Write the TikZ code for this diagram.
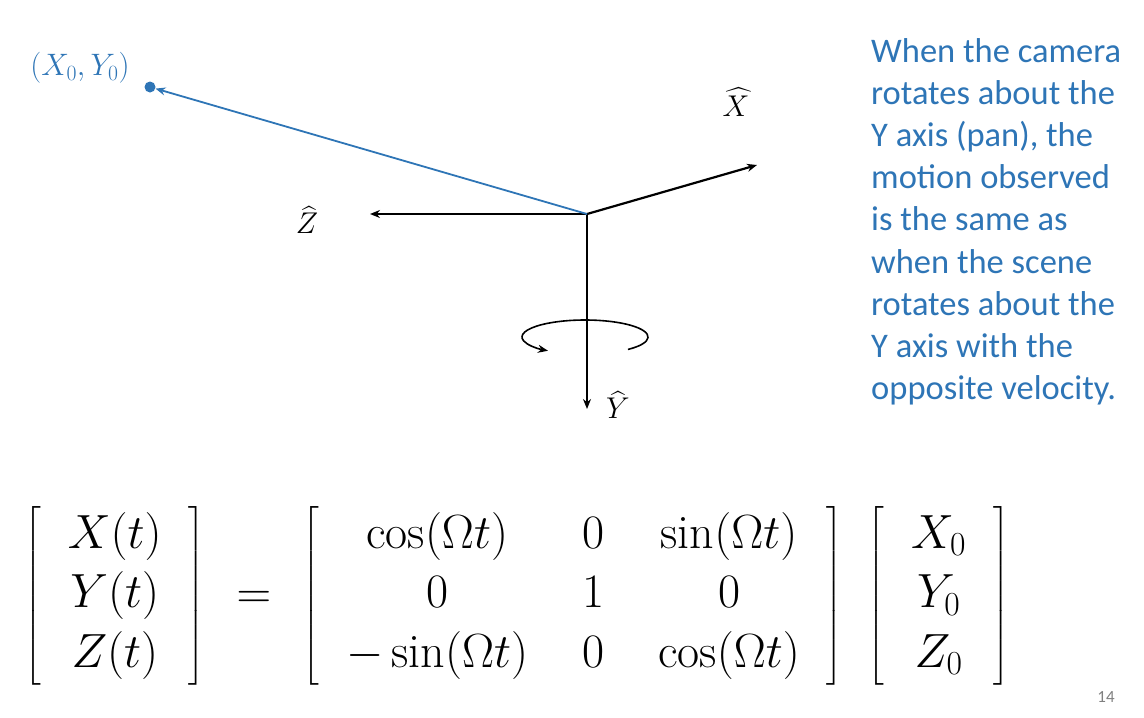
\RequirePackage{fix-cm}
\documentclass[tikz,border=0pt]{standalone}
\usepackage{amsmath}
\usepackage{fontspec}
\setsansfont{Carlito}
\usepackage{tikz}
\usetikzlibrary{arrows.meta, positioning}

\definecolor{slideblue}{RGB}{46,117,182}

\begin{document}
\begin{tikzpicture}[x=1pt, y=-1pt, >={Stealth[length=10pt,width=8pt]},
    axis/.style={->, line width=2.2pt, black},
    ray/.style={->, line width=1.8pt, slideblue},
    lbl/.style={font=\fontsize{30}{34}\selectfont, inner sep=0pt}]

        \useasboundingbox (0,0) rectangle (1144,718);

        \coordinate (o) at (587,214);
        \coordinate (xe) at (757,165);
        \coordinate (ze) at (370,214);
        \coordinate (ye) at (587,409);
        \node[circle, fill=slideblue, inner sep=0pt, minimum size=11pt] (p0) at (150,87) {};

        \node[lbl] (xlab) at (736,102) {$\widehat{X}$};
        \node[lbl] (zlab) at (307,220) {$\widehat{Z}$};
        \node[lbl] (ylab) at (618,405) {$\widehat{Y}$};
        \node[lbl, font=\fontsize{31}{34}\selectfont, text=slideblue] (plab) at (80,68) {$(X_0,Y_0)$};

        \draw[axis] (o) -- (xe);
        \draw[axis] (o) -- (ze);
        \draw[axis] (o) -- (ye);
        \draw[ray] (o) -- (p0);

        % rotation about Y
        \draw[->, line width=1.6pt] (585,337) ++(47:63 and 17) arc[start angle=47, end angle=-234, x radius=63, y radius=17];

        \node[anchor=north west, align=left, text=slideblue, inner sep=0pt,
              font=\sffamily\fontsize{34.5}{42.2}\selectfont] (note) at (871,38)
            {When the camera\\rotates about the\\Y axis (pan), the\\motion observed\\is the same as\\when the scene\\rotates about the\\Y axis with the\\opposite velocity.};

        \node[inner sep=0pt, font=\fontsize{48}{57.6}\selectfont] (eq) at (517,596)
            {$\renewcommand{\arraystretch}{1.03}\setlength{\arraycolsep}{27pt}
             \left[\begin{array}{c} X(t)\\ Y(t)\\ Z(t)\end{array}\right]
             \hspace{18pt}=\hspace{18pt}
             \left[\begin{array}{ccc} \cos(\Omega t) & 0 & \sin(\Omega t)\\ 0 & 1 & 0\\ -\sin(\Omega t) & 0 & \cos(\Omega t)\end{array}\right]
             \hspace{16pt}
             \left[\begin{array}{c} X_0\\ Y_0\\ Z_0\end{array}\right]$};

        \node[text=gray, font=\sffamily\fontsize{17}{19}\selectfont] (pg) at (1106,697) {14};

    \end{tikzpicture}
\end{document}
